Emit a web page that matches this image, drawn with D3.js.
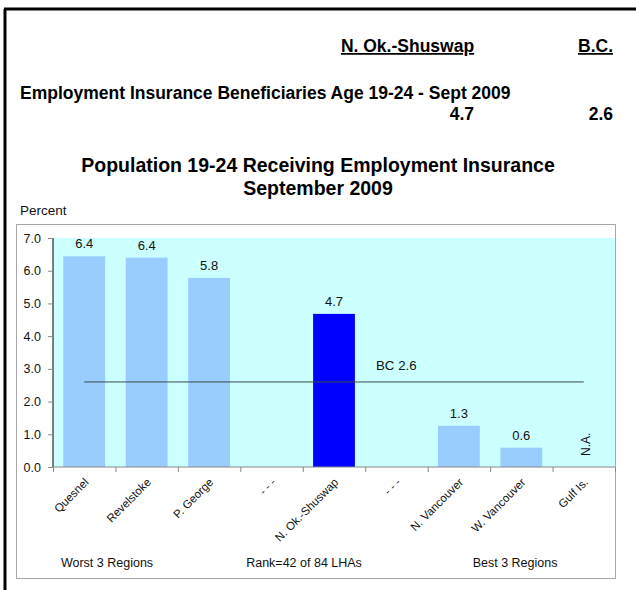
<!DOCTYPE html>
<html>
<head>
<meta charset="utf-8">
<script src="https://cdn.jsdelivr.net/npm/d3@7"></script>
<style>
  body { margin: 0; background: #fff; }
  text { font-family: Arial, "Liberation Sans", sans-serif; }
</style>
</head>
<body>
<div id="chart"></div>
<script>
  // data
  const regions = ["Quesnel", "Revelstoke", "P. George", "- - -", "N. Ok.-Shuswap", "- - -", "N. Vancouver", "W. Vancouver", "Gulf Is."];
  const values = [6.44, 6.4, 5.78, null, 4.68, null, 1.26, 0.59, null];
  const highlight = "N. Ok.-Shuswap";
  const bcValue = 2.6;
  const localValue = 4.7;
  const yTicks = [0, 1, 2, 3, 4, 5, 6, 7];
  const groupLabels = ["Worst 3 Regions", "Rank=42 of 84 LHAs", "Best 3 Regions"];
  const groupPos = [0.865, 4.02, 7.4]; // in category units along the x axis

  const width = 636,
    height = 590,
    plot = { left: 53, right: 615, top: 238, bottom: 467 };

  const svg = d3.select("#chart")
    .append("svg")
    .attr("width", width)
    .attr("height", height);

  // page border (left + top)
  svg.append("line").attr("x1", 5).attr("x2", 5).attr("y1", 9).attr("y2", height)
    .attr("stroke", "#000").attr("stroke-width", 3);
  svg.append("line").attr("x1", 4).attr("x2", width).attr("y1", 9).attr("y2", 9)
    .attr("stroke", "#000").attr("stroke-width", 3);

  // header table
  const head = svg.append("g").style("font-weight", "bold").style("font-size", "17.5px").attr("fill", "#000");
  head.append("text").attr("x", 407.5).attr("y", 52).attr("text-anchor", "middle")
    .style("text-decoration", "underline").text("N. Ok.-Shuswap");
  head.append("text").attr("x", 613).attr("y", 52).attr("text-anchor", "end")
    .style("text-decoration", "underline").text("B.C.");
  head.append("text").attr("x", 20).attr("y", 99)
    .text("Employment Insurance Beneficiaries Age 19-24 - Sept 2009");
  head.append("text").attr("x", 474).attr("y", 120).attr("text-anchor", "end").text(localValue.toFixed(1));
  head.append("text").attr("x", 613).attr("y", 120).attr("text-anchor", "end").text(bcValue.toFixed(1));

  // chart title
  svg.append("text").attr("x", 318).attr("y", 172).attr("text-anchor", "middle")
    .style("font-weight", "bold").style("font-size", "19.5px")
    .text("Population 19-24 Receiving Employment Insurance");
  svg.append("text").attr("x", 318).attr("y", 195).attr("text-anchor", "middle")
    .style("font-weight", "bold").style("font-size", "19.5px")
    .text("September 2009");
  svg.append("text").attr("x", 20).attr("y", 215).style("font-size", "13.5px").attr("fill", "#111").text("Percent");

  // chart frame
  svg.append("rect").attr("x", 16.5).attr("y", 224.5).attr("width", 599).attr("height", 354)
    .attr("fill", "#fff").attr("stroke", "#a6a6a6");

  /* SCALES */
  const xScale = d3.scaleBand()
    .domain(d3.range(regions.length))
    .range([plot.left, plot.right])
    .paddingInner(0.33)
    .paddingOuter(0.165);

  const xCat = d3.scaleBand()
    .domain(d3.range(regions.length))
    .range([plot.left, plot.right]);

  const xUnit = d3.scaleLinear()
    .domain([0, regions.length])
    .range([plot.left, plot.right]);

  const yScale = d3.scaleLinear()
    .domain([0, 7])
    .range([plot.bottom, plot.top]);

  // plot background
  svg.append("rect")
    .attr("x", plot.left).attr("y", plot.top)
    .attr("width", plot.right - plot.left).attr("height", plot.bottom - plot.top)
    .attr("fill", "#ccffff");

  // bars
  const data = regions.map((r, i) => ({ region: r, value: values[i], i }));
  svg.selectAll("rect.bar")
    .data(data.filter(d => d.value != null))
    .join("rect")
    .attr("class", "bar")
    .attr("x", d => xScale(d.i))
    .attr("width", xScale.bandwidth())
    .attr("y", d => yScale(d.value))
    .attr("height", d => yScale(0) - yScale(d.value))
    .attr("fill", d => d.region === highlight ? "#0000ff" : "#99ccff");

  // value labels
  svg.selectAll("text.val")
    .data(data.filter(d => d.value != null))
    .join("text")
    .attr("class", "val")
    .attr("x", d => xCat(d.i) + xCat.bandwidth() / 2)
    .attr("y", d => yScale(d.value) - 8)
    .attr("text-anchor", "middle")
    .style("font-size", "13px")
    .attr("fill", "#111")
    .text(d => d.value.toFixed(1));

  // N.A. marker for missing data
  const naX = xCat(8) + xCat.bandwidth() / 2;
  svg.append("text")
    .attr("transform", `translate(${naX + 6},${yScale(0) - 11}) rotate(-90)`)
    .style("font-size", "12px")
    .attr("fill", "#111")
    .text("N.A.");

  // BC average line
  svg.append("line")
    .attr("x1", xCat(0) + xCat.bandwidth() / 2)
    .attr("x2", xCat(8) + xCat.bandwidth() / 2)
    .attr("y1", yScale(bcValue)).attr("y2", yScale(bcValue))
    .attr("stroke", "#3a4a4a").attr("stroke-width", 1);
  svg.append("text")
    .attr("x", 376).attr("y", yScale(bcValue) - 12)
    .style("font-size", "13.3px").attr("fill", "#111")
    .text("BC " + bcValue.toFixed(1));

  /* AXES */
  const yAxis = d3.axisLeft(yScale)
    .tickValues(yTicks)
    .tickFormat(d3.format(".1f"))
    .tickSize(5)
    .tickPadding(7);

  const gy = svg.append("g")
    .attr("class", "y-axis")
    .attr("transform", `translate(${plot.left},0)`)
    .call(yAxis);
  gy.select(".domain").attr("stroke", "#000").attr("d", `M0,${plot.top}V${plot.bottom}`);
  gy.selectAll(".tick line").attr("stroke", "#888");
  gy.selectAll("text").style("font-size", "12.5px").attr("fill", "#111").style("font-family", "Arial, 'Liberation Sans', sans-serif");

  const xAxis = d3.axisBottom(xUnit)
    .tickValues(d3.range(regions.length + 1))
    .tickSize(5)
    .tickFormat("");

  const gx = svg.append("g")
    .attr("class", "x-axis")
    .attr("transform", `translate(0,${plot.bottom})`)
    .call(xAxis);
  gx.select(".domain").attr("stroke", "#888").attr("d", `M${plot.left},0H${plot.right}`);
  gx.selectAll(".tick line").attr("stroke", "#888");

  // rotated category labels
  svg.selectAll("text.cat")
    .data(data)
    .join("text")
    .attr("class", "cat")
    .attr("transform", d => `translate(${xCat(d.i) + xCat.bandwidth() / 2 + 5},${plot.bottom + 16}) rotate(-45)`)
    .attr("text-anchor", "end")
    .style("font-size", "11.5px")
    .attr("fill", "#111")
    .text(d => d.region);

  // group labels under the axis
  svg.selectAll("text.grp")
    .data(groupLabels)
    .join("text")
    .attr("class", "grp")
    .attr("x", (d, i) => xUnit(groupPos[i]))
    .attr("y", 567)
    .attr("text-anchor", "middle")
    .style("font-size", "12.5px")
    .attr("fill", "#111")
    .text(d => d);
</script>
</body>
</html>
